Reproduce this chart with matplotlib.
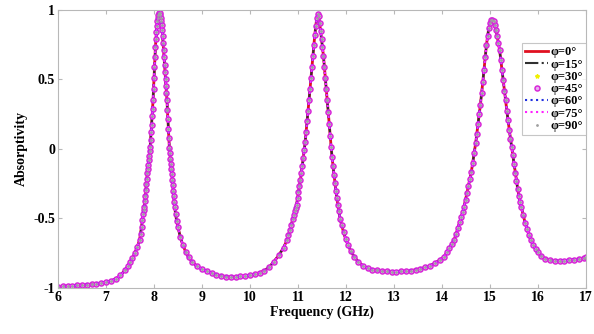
import matplotlib
matplotlib.use("Agg")
import matplotlib.pyplot as plt

# absorptivity vs frequency (same curve for every polarization angle)
freq = [6.00, 6.10, 6.20, 6.30, 6.40, 6.50, 6.60, 6.70, 6.80, 6.90,
        7.00, 7.10, 7.20, 7.30, 7.40, 7.45, 7.50, 7.55, 7.60, 7.65,
        7.70, 7.72, 7.74, 7.76, 7.78, 7.79, 7.80, 7.81, 7.82, 7.83,
        7.84, 7.85, 7.86, 7.87, 7.88, 7.89, 7.90, 7.91, 7.92, 7.93,
        7.94, 7.95, 7.96, 7.97, 7.98, 7.99, 8.00, 8.01, 8.02, 8.03,
        8.04, 8.05, 8.06, 8.07, 8.08, 8.09, 8.10, 8.11, 8.12, 8.13,
        8.14, 8.15, 8.16, 8.17, 8.18, 8.19, 8.20, 8.21, 8.22, 8.23,
        8.24, 8.25, 8.26, 8.27, 8.28, 8.29, 8.30, 8.31, 8.32, 8.33,
        8.34, 8.35, 8.36, 8.37, 8.38, 8.39, 8.40, 8.41, 8.42, 8.43,
        8.45, 8.47, 8.50, 8.55, 8.60, 8.66, 8.72, 8.80, 8.90, 9.00,
        9.10, 9.20, 9.30, 9.40, 9.50, 9.60, 9.70, 9.80, 9.90, 10.00,
        10.10, 10.20, 10.30, 10.40, 10.50, 10.60, 10.70, 10.77, 10.80, 10.83,
        10.86, 10.89, 10.91, 10.93, 10.95, 10.97, 10.99, 11.01, 11.03, 11.05,
        11.07, 11.09, 11.11, 11.13, 11.15, 11.17, 11.19, 11.21, 11.23, 11.25,
        11.27, 11.29, 11.31, 11.33, 11.35, 11.37, 11.39, 11.41, 11.43, 11.45,
        11.47, 11.49, 11.51, 11.53, 11.55, 11.57, 11.59, 11.61, 11.63, 11.65,
        11.67, 11.69, 11.71, 11.73, 11.75, 11.77, 11.79, 11.81, 11.83, 11.85,
        11.88, 11.91, 11.95, 11.99, 12.04, 12.10, 12.17, 12.25, 12.35, 12.45,
        12.55, 12.65, 12.75, 12.85, 12.95, 13.05, 13.15, 13.25, 13.35, 13.45,
        13.55, 13.65, 13.75, 13.85, 13.95, 14.04, 14.10, 14.15, 14.20, 14.25,
        14.29, 14.33, 14.37, 14.40, 14.43, 14.46, 14.49, 14.52, 14.55, 14.58,
        14.61, 14.64, 14.67, 14.70, 14.725, 14.75, 14.775, 14.80, 14.825, 14.85,
        14.875, 14.90, 14.925, 14.95, 14.975, 15.00, 15.025, 15.05, 15.075, 15.10,
        15.125, 15.15, 15.175, 15.20, 15.225, 15.25, 15.275, 15.30, 15.325, 15.35,
        15.375, 15.40, 15.425, 15.45, 15.475, 15.50, 15.525, 15.55, 15.575, 15.60,
        15.625, 15.65, 15.69, 15.73, 15.77, 15.81, 15.85, 15.90, 15.95, 16.00,
        16.06, 16.15, 16.25, 16.35, 16.45, 16.55, 16.65, 16.75, 16.85, 16.95,
        17.00]

absorptivity = [-0.990, -0.988, -0.986, -0.984, -0.982, -0.980, -0.977, -0.974, -0.970, -0.965,
                -0.960, -0.950, -0.935, -0.910, -0.870, -0.845, -0.815, -0.785, -0.750, -0.705,
                -0.655, -0.610, -0.560, -0.510, -0.465, -0.440, -0.415, -0.375, -0.335, -0.295,
                -0.255, -0.215, -0.175, -0.145, -0.115, -0.080, -0.050, -0.015, 0.015, 0.065,
                0.120, 0.175, 0.235, 0.290, 0.350, 0.430, 0.510, 0.590, 0.665, 0.735,
                0.790, 0.840, 0.885, 0.920, 0.945, 0.962, 0.974, 0.980, 0.978, 0.965,
                0.945, 0.920, 0.895, 0.855, 0.810, 0.760, 0.710, 0.660, 0.605, 0.555,
                0.500, 0.450, 0.400, 0.350, 0.280, 0.215, 0.145, 0.080, 0.010, -0.030,
                -0.070, -0.105, -0.145, -0.180, -0.220, -0.260, -0.300, -0.340, -0.380, -0.420,
                -0.470, -0.515, -0.565, -0.635, -0.690, -0.740, -0.780, -0.815, -0.845, -0.865,
                -0.880, -0.895, -0.905, -0.912, -0.918, -0.920, -0.920, -0.917, -0.913, -0.908,
                -0.900, -0.890, -0.875, -0.850, -0.810, -0.765, -0.710, -0.655, -0.620, -0.585,
                -0.545, -0.505, -0.475, -0.450, -0.425, -0.400, -0.355, -0.310, -0.265, -0.220,
                -0.175, -0.120, -0.065, -0.010, 0.050, 0.125, 0.200, 0.275, 0.350, 0.430,
                0.510, 0.590, 0.670, 0.745, 0.820, 0.885, 0.940, 0.968, 0.955, 0.910,
                0.850, 0.790, 0.735, 0.670, 0.590, 0.510, 0.430, 0.350, 0.265, 0.180,
                0.095, 0.015, -0.060, -0.125, -0.185, -0.245, -0.300, -0.355, -0.405, -0.450,
                -0.505, -0.550, -0.600, -0.645, -0.690, -0.735, -0.775, -0.810, -0.840, -0.858,
                -0.868, -0.874, -0.878, -0.880, -0.882, -0.882, -0.881, -0.879, -0.875, -0.870,
                -0.862, -0.852, -0.840, -0.822, -0.800, -0.775, -0.745, -0.715, -0.685, -0.655,
                -0.615, -0.570, -0.525, -0.490, -0.455, -0.415, -0.365, -0.315, -0.265, -0.215,
                -0.165, -0.100, -0.030, 0.040, 0.110, 0.180, 0.250, 0.320, 0.400, 0.485,
                0.570, 0.660, 0.745, 0.815, 0.870, 0.905, 0.925, 0.930, 0.920, 0.895,
                0.855, 0.810, 0.760, 0.710, 0.640, 0.570, 0.495, 0.420, 0.350, 0.275,
                0.205, 0.140, 0.075, 0.015, -0.045, -0.110, -0.170, -0.230, -0.285, -0.335,
                -0.380, -0.415, -0.475, -0.530, -0.575, -0.620, -0.655, -0.690, -0.720, -0.745,
                -0.770, -0.790, -0.800, -0.805, -0.805, -0.803, -0.800, -0.797, -0.792, -0.785,
                -0.780]

angles = ["0", "15", "30", "45", "60", "75", "90"]

plt.rcParams['font.family'] = ['Liberation Serif', 'DejaVu Serif']
plt.rcParams['font.weight'] = 'bold'

fig = plt.figure(figsize=(5.94, 3.34), dpi=100)
ax = fig.add_axes([0.0976, 0.138, 0.889, 0.832])

ax.plot(freq, absorptivity, color='#e01020', linestyle='-', linewidth=2, label='φ=' + angles[0] + '°')
ax.plot(freq, absorptivity, color='#303030', linestyle='-.', linewidth=1.5, label='φ=' + angles[1] + '°')
ax.plot(freq, absorptivity, color='#f0f000', linestyle='none', marker='*', markersize=3,
        label='φ=' + angles[2] + '°')
ax.plot(freq, absorptivity, color='#d828d8', linestyle='none', marker='o', markersize=3.6,
        markerfacecolor='#e8b0f0', markeredgewidth=1.1, label='φ=' + angles[3] + '°')
ax.plot(freq, absorptivity, color='#2030e0', linestyle=':', linewidth=1.5, label='φ=' + angles[4] + '°')
ax.plot(freq, absorptivity, color='#ff20ff', linestyle=':', linewidth=1.5, label='φ=' + angles[5] + '°')
ax.plot(freq, absorptivity, color='#a0a0a0', linestyle='none', marker='.', markersize=2,
        label='φ=' + angles[6] + '°')

ax.set_xlim(6, 17)
ax.set_ylim(-1, 1)
ax.set_xticks(range(6, 18))
ax.set_yticks([-1, -0.5, 0, 0.5, 1])
ax.set_yticklabels(['-1', '-0.5', '0', '0.5', '1'])

for s in ax.spines.values():
    s.set_color('#b8b8b8')
    s.set_linewidth(0.8)
ax.tick_params(direction='in', length=3, color='#b8b8b8', top=True, right=True,
               labelsize=10, pad=2)
for lab in ax.get_xticklabels() + ax.get_yticklabels():
    lab.set_fontweight('bold')

ax.set_xlabel('Frequency (GHz)', fontsize=10, fontweight='bold', labelpad=1)
ax.set_ylabel('Absorptivity', fontsize=10, fontweight='bold', labelpad=4)

leg = ax.legend(loc='upper right', bbox_to_anchor=(1.0, 0.88), fontsize=9, frameon=True,
                fancybox=False, edgecolor='#b8b8b8', handlelength=1.8, handletextpad=0.2,
                borderpad=0.25, labelspacing=0.02, borderaxespad=0.0)
leg.get_frame().set_linewidth(0.8)
for t in leg.get_texts():
    t.set_fontweight('bold')

plt.savefig('out.png', dpi=100)
